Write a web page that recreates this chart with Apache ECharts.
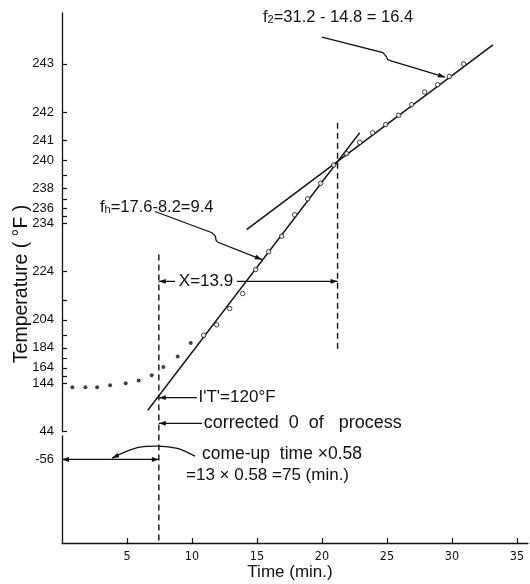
<!DOCTYPE html>
<html><head><meta charset="utf-8">
<script src="https://cdn.jsdelivr.net/npm/echarts@6/dist/echarts.min.js"></script>
<style>html,body{margin:0;padding:0;background:#fff}#c{width:530px;height:584px}</style>
</head><body><div id="c"></div>
<script>
// Heat-penetration curve on semi-log paper: the y axis is log(RT - T), inverted.
const RETORT_T = 244;          // retort temperature (°F); top grid line = RT - 1
const Y_AXIS_MIN = 0.48;       // in (RT - T) units, top of paper
const Y_AXIS_MAX = 1000;       // in (RT - T) units, bottom of paper
const X_AXIS_MAX = 35.85;      // minutes

const xTickLabels = [5, 10, 15, 20, 25, 30, 35];
const yTickLabels = [243, 242, 241, 240, 238, 236, 234, 224, 204, 184, 164, 144, 44, -56];
const yMinorTicks = [239, 237, 235, 214, 194, 174, 154];

// measured points (time min, temperature °F)
const lagTimes = [0.8, 1.8, 2.7, 3.7, 4.9, 5.9, 6.9, 7.8, 8.9, 9.9];
const lagTemps = [138, 138, 138, 141, 144, 148, 155, 165, 176, 188];
const heatTimes = [10.9, 11.9, 12.9, 13.9, 14.9, 15.9, 16.9, 17.9, 18.9, 19.9, 20.9,
                   21.9, 22.9, 23.9, 24.9, 25.9, 26.9, 27.9, 28.9, 29.8, 30.9];
const heatTemps = [194, 201, 210, 216.6, 224.6, 229, 232, 235.2, 237, 238.4, 239.7,
                   240.35, 240.9, 241.3, 241.6, 241.9, 242.2, 242.5, 242.65, 242.8, 243.0];

// fitted straight lines (endpoints)
const line1Times = [6.6, 22.9];   const line1Temps = [96.6, 241.3];
const line2Times = [14.2, 33.15]; const line2Temps = [233.1, 243.24];

// annotation geometry in data units [time, temperature]
const correctedZero = 7.45;
const breakTime = 21.2;
const annPaths = [
  {pts: [[correctedZero, 228.4], [correctedZero, RETORT_T - Y_AXIS_MAX]], dash: true},
  {pts: [[breakTime, 241.66], [breakTime, 182.7]], dash: true},
  {pts: [[8.7, 221], [correctedZero, 221]], arrow: 'end'},
  {pts: [[13.46, 221], [breakTime, 221]], arrow: 'end'},
  {pts: [[10.38, 121], [correctedZero, 121]], arrow: 'end'},
  {pts: [[10.77, 66], [correctedZero, 66]], arrow: 'end'},
  {pts: [[0, -56], [correctedZero, -56]], arrow: 'both'},
  {pts: [[10.23, -41.8], [9.08, -14.4], [8.31, -7.2], [7.31, -3.7], [6.0, -7.2], [5.0, -22], [3.85, -50]], arrow: 'end', smooth: 0.35},
  {pts: [[7.15, 235.6], [11.54, 232.6], [11.8, 232.0], [11.85, 231.3], [12.0, 230.9], [15.38, 227.2]], arrow: 'end'},
  {pts: [[20.0, 243.32], [24.69, 243.15], [24.95, 243.1], [25.05, 243.06], [25.38, 243.04], [29.46, 242.79]], arrow: 'end'},
  {gap: [44, 32]}
];
const annTexts = [
  {at: [2.92, 236.3], text: '{f|f}{s|h}{n|=17.6-8.2=9.4}', align: 'left', size: 17},
  {at: [15.46, 243.5], text: '{f|f}{s|2}{n|=31.2 - 14.8 = 16.4}', align: 'left', size: 17},
  {at: [11.08, 221], text: 'X=13.9', align: 'center', size: 17},
  {at: [10.5, 121], text: "I'T'=120°F", align: 'left', size: 17},
  {at: [10.9, 66], text: 'corrected  0  of   process', align: 'left', size: 18},
  {at: [10.77, -33.8], text: 'come-up  time ×0.58', align: 'left', size: 17.5},
  {at: [9.54, -131.8], text: '=13 × 0.58 =75 (min.)', align: 'left', size: 17}
];

const INK = '#111';
const FONT = '"Liberation Sans", Arial, sans-serif';
const toV = T => RETORT_T - T;

function arrowHead(p0, p1) {
  const dx = p1[0] - p0[0], dy = p1[1] - p0[1];
  const len = Math.hypot(dx, dy) || 1;
  const ux = dx / len, uy = dy / len;
  const L = 7, W = 2.4;
  const bx = p1[0] - ux * L, by = p1[1] - uy * L;
  return {type: 'polygon', shape: {points: [p1, [bx - uy * W, by + ux * W], [bx + uy * W, by - ux * W]]},
          style: {fill: INK, stroke: null}};
}

const chart = echarts.init(document.getElementById('c'), null, {renderer: 'canvas'});
const option = {
  animation: false,
  backgroundColor: '#fff',
  grid: {left: 62, right: 2, top: 13, bottom: 41, outerBoundsMode: 'none', containLabel: false},
  xAxis: {
    type: 'value', min: 0, max: X_AXIS_MAX,
    name: 'Time (min.)', nameLocation: 'middle', nameGap: 21, nameMoveOverlap: false,
    nameTextStyle: {fontFamily: FONT, fontSize: 17, color: INK, padding: [0, 10, 0, 0]},
    axisLine: {show: true, lineStyle: {color: INK, width: 1.3}},
    axisTick: {show: true, inside: true, length: 5, customValues: xTickLabels, lineStyle: {color: INK, width: 1.2}},
    axisLabel: {show: true, customValues: xTickLabels, margin: 7, color: INK,
                fontFamily: '"Liberation Sans Narrow", "DejaVu Sans Condensed", sans-serif', fontSize: 12.5},
    splitLine: {show: false}
  },
  yAxis: {
    type: 'log', logBase: 10, inverse: true, min: Y_AXIS_MIN, max: Y_AXIS_MAX,
    name: 'Temperature ( °F )', nameLocation: 'middle', nameGap: 30, nameMoveOverlap: false,
    nameTextStyle: {fontFamily: FONT, fontSize: 19.5, color: INK, padding: [0, 12, 0, 0]},
    axisLine: {show: true, lineStyle: {color: INK, width: 1.3}},
    axisTick: {show: true, inside: true, length: 5,
               customValues: yTickLabels.concat(yMinorTicks).map(toV), lineStyle: {color: INK, width: 1.2}},
    axisLabel: {show: true, customValues: yTickLabels.map(toV), margin: 8, color: INK,
                fontFamily: FONT, fontSize: 13,
                formatter: v => String(Math.round(RETORT_T - v))},
    splitLine: {show: false}
  },
  series: [
    {type: 'line', data: line1Times.map((t, i) => [t, toV(line1Temps[i])]), symbol: 'none',
     lineStyle: {color: INK, width: 1.4}, z: 2, silent: true},
    {type: 'line', data: line2Times.map((t, i) => [t, toV(line2Temps[i])]), symbol: 'none',
     lineStyle: {color: INK, width: 1.4}, z: 2, silent: true},
    {type: 'scatter', data: lagTimes.map((t, i) => [t, toV(lagTemps[i])]), symbol: 'circle', symbolSize: 4,
     itemStyle: {color: INK}, z: 4, silent: true},
    {type: 'scatter', data: heatTimes.map((t, i) => [t, toV(heatTemps[i])]), symbol: 'circle', symbolSize: 4.5,
     itemStyle: {color: '#fff', borderColor: INK, borderWidth: 1}, z: 4, silent: true},
    {type: 'custom', coordinateSystem: 'cartesian2d', clip: false, silent: true, z: 5,
     data: annPaths.map((a, i) => [0, 10, i]),
     renderItem(params, api) {
       const a = annPaths[params.dataIndex];
       if (a.gap) {
         const p1 = api.coord([0, toV(a.gap[0])]);
         const p2 = api.coord([0, toV(a.gap[1])]);
         return {type: 'rect', shape: {x: p1[0] - 3, y: p1[1] + 1, width: 6, height: p2[1] - p1[1] - 1},
                 style: {fill: '#fff', stroke: null}};
       }
       const pts = a.pts.map(p => api.coord([p[0], toV(p[1])]));
       const children = [{type: 'polyline', shape: {points: pts, smooth: a.smooth || 0},
         style: {stroke: INK, lineWidth: a.dash ? 1.4 : 1.25, fill: null, lineDash: a.dash ? [6, 4] : null}}];
       if (a.arrow === 'end' || a.arrow === 'both') children.push(arrowHead(pts[pts.length - 2], pts[pts.length - 1]));
       if (a.arrow === 'both') children.push(arrowHead(pts[1], pts[0]));
       return {type: 'group', children};
     }},
    {type: 'custom', coordinateSystem: 'cartesian2d', clip: false, silent: true, z: 6,
     data: annTexts.map((a, i) => [a.at[0], toV(a.at[1]), i]),
     renderItem(params, api) {
       const a = annTexts[params.dataIndex];
       const p = api.coord([a.at[0], toV(a.at[1])]);
       return {type: 'text', x: p[0], y: p[1],
         style: {text: a.text, fill: INK, font: a.size + 'px ' + FONT, align: a.align, verticalAlign: 'middle',
           rich: {
             f: {fontSize: 16.5, fontFamily: FONT, fill: INK, lineHeight: 20, verticalAlign: 'bottom'},
             s: {fontSize: 11, fontFamily: FONT, fill: INK, lineHeight: 13, verticalAlign: 'bottom'},
             n: {fontSize: 16.5, fontFamily: FONT, fill: INK, lineHeight: 20, verticalAlign: 'bottom'}
           }}};
     }}
  ]
};
chart.setOption(option);
</script></body></html>
